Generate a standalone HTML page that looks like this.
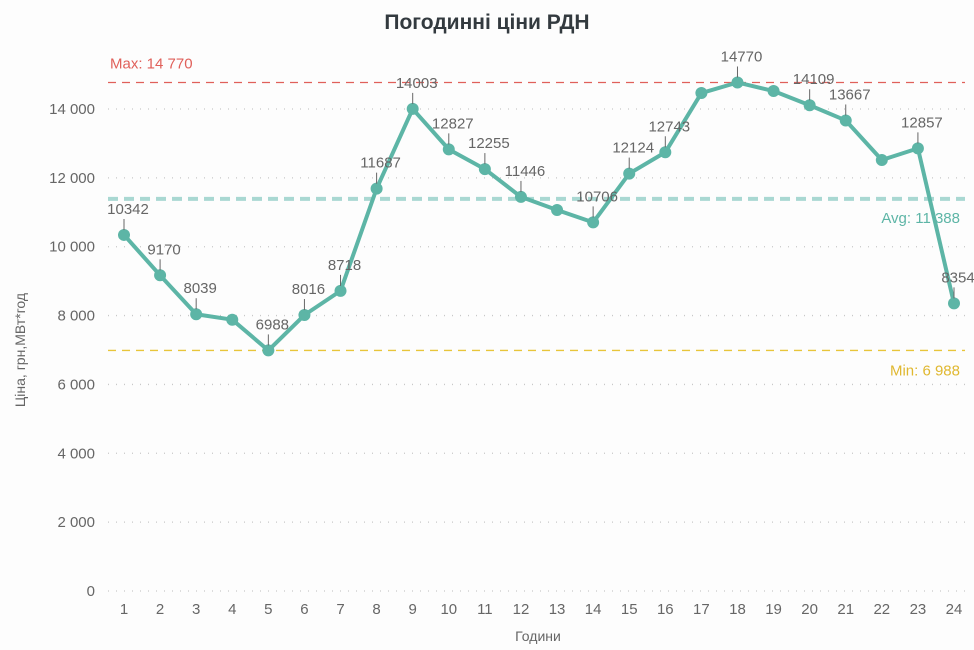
<!DOCTYPE html>
<html><head><meta charset="utf-8"><style>
body{margin:0;background:#fff;}
svg{display:block;font-family:"Liberation Sans",sans-serif;}
</style></head><body>
<svg id="chart" width="974" height="650">
<rect x="0" y="0" width="974" height="650" fill="#fdfdfd"/>
<text x="487" y="29" text-anchor="middle" font-size="21" font-weight="bold" fill="#333a3f">Погодинні ціни РДН</text>
<text transform="translate(25,350) rotate(-90)" text-anchor="middle" font-size="14" fill="#666">Ціна, грн,МВт*год</text>
<text x="538" y="641" text-anchor="middle" font-size="14" fill="#666">Години</text>
<g id="grid"></g><g id="refs"></g><g id="series"></g><g id="labels"></g>
</svg>
<script>
const hours=[1,2,3,4,5,6,7,8,9,10,11,12,13,14,15,16,17,18,19,20,21,22,23,24];
const prices=[10342,9170,8039,7880,6988,8016,8718,11687,14003,12827,12255,11446,11066,10706,12124,12743,14464,14770,14522,14109,13667,12518,12857,8354];
const showLabel=[1,1,1,0,1,1,1,1,1,1,1,1,0,1,1,1,0,1,0,1,1,0,1,1];
const yTicks=[0,2000,4000,6000,8000,10000,12000,14000];
const yTickLabels=["0","2 000","4 000","6 000","8 000","10 000","12 000","14 000"];
const maxVal=14770, avgVal=11388, minVal=6988;
const NS="http://www.w3.org/2000/svg";
const X=h=>124+(h-1)*(830/23);
const Y=v=>591-v*(482/14000);
function mk(tag,attrs,parent,txt){const e=document.createElementNS(NS,tag);for(const k in attrs)e.setAttribute(k,attrs[k]);if(txt!==undefined)e.textContent=txt;document.getElementById(parent).appendChild(e);return e;}
yTicks.forEach((t,i)=>{
  const l=mk('line',{x1:108,x2:965,y1:Y(t),y2:Y(t),stroke:'#c8c8c8','stroke-dasharray':'1 7','stroke-width':1.3},'grid');
  
  
  const tx=mk('text',{x:95,y:Y(t)+5,'text-anchor':'end','font-size':15,fill:'#666'},'grid',yTickLabels[i]);
  
  
});
hours.forEach(h=>{
  const tx=mk('text',{x:X(h),y:614,'text-anchor':'middle','font-size':15,fill:'#666'},'grid',String(h));
  
  
});
function ref(v,color,tcolor,w,dash,label,lx,ly,anchor,name){
  const l=mk('line',{x1:108,x2:965,y1:Y(v),y2:Y(v),stroke:color,'stroke-width':w,'stroke-dasharray':dash},'refs');
  
  
  const t=mk('text',{x:lx,y:ly,'text-anchor':anchor,'font-size':15,fill:tcolor},'refs',label);
  
  
}
ref(maxVal,'#e0605a','#e0605a',1.3,'8 6','Max: 14 770',110,Y(maxVal)-14,'start','max');
ref(avgVal,'#a9d8d2','#5db5a6',4,'10 6','Avg: 11 388',960,Y(avgVal)+24,'end','avg');
ref(minVal,'#e8c53a','#e0b830',1.3,'8 6','Min: 6 988',960,Y(minVal)+25,'end','min');
const pl=mk('polyline',{points:hours.map((h,i)=>X(h)+','+Y(prices[i])).join(' '),fill:'none',stroke:'#5db5a6','stroke-width':4,'stroke-linejoin':'round'},'series');


hours.forEach((h,i)=>{
  const c=mk('circle',{cx:X(h),cy:Y(prices[i]),r:6,fill:'#5db5a6'},'series');
  
  
  if(showLabel[i]){
    const x=X(h),y=Y(prices[i]);
    const l=mk('line',{x1:x,x2:x,y1:y-5,y2:y-16,stroke:'#666','stroke-width':1},'labels');
    
    
    const t=mk('text',{x:x+4,y:y-21,'text-anchor':'middle','font-size':15,fill:'#666'},'labels',String(prices[i]));
    
    
  }
});
</script>
</body></html>
